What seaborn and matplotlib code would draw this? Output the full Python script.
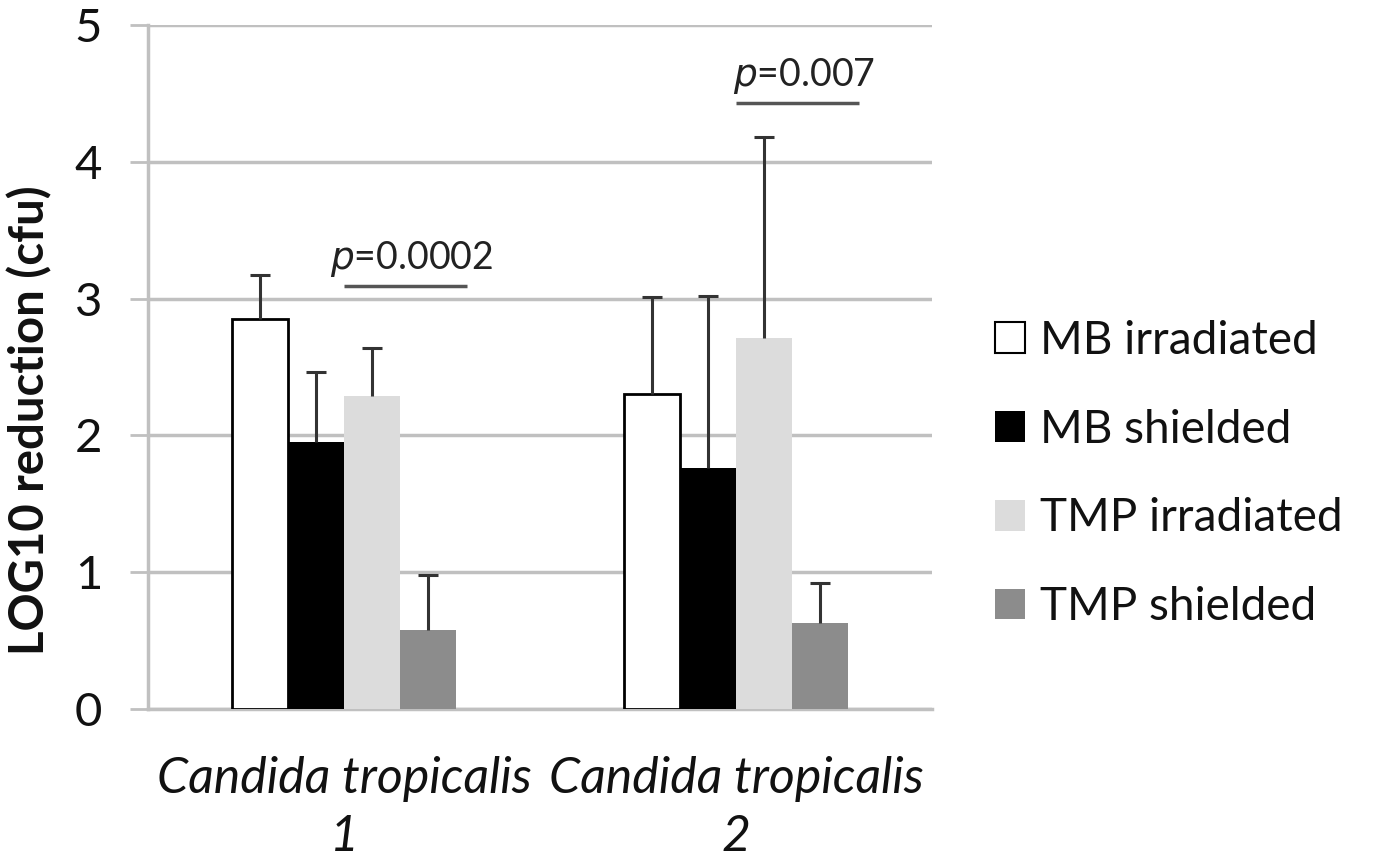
import numpy as np
import pandas as pd
import matplotlib
matplotlib.use("Agg")
import matplotlib.pyplot as plt
import seaborn as sns
from matplotlib.patches import Patch

# ---- data ----
categories = ["Candida tropicalis\n1", "Candida tropicalis\n2"]
treatments = ["MB irradiated", "MB shielded", "TMP irradiated", "TMP shielded"]
means_ct1 = [2.85, 1.95, 2.29, 0.58]
means_ct2 = [2.30, 1.76, 2.71, 0.63]
sd_ct1 = [0.32, 0.51, 0.35, 0.40]
sd_ct2 = [0.71, 1.26, 1.47, 0.29]
yticks = [0, 1, 2, 3, 4, 5]
pvals = ["0.0002", "0.007"]
p_heights = [3.09, 4.43]

colors = ["#ffffff", "#000000", "#dcdcdc", "#8c8c8c"]
edges = ["#000000", "#000000", "#dcdcdc", "#8c8c8c"]

rows = []
for cat, ms, ss in [(categories[0], means_ct1, sd_ct1), (categories[1], means_ct2, sd_ct2)]:
    for t, m, s in zip(treatments, ms, ss):
        rows.append({"category": cat, "treatment": t, "value": m, "sd": s})
df = pd.DataFrame(rows)

sns.set_theme(style="white")
plt.rcParams["font.family"] = ["Lato", "DejaVu Sans"]

fig = plt.figure(figsize=(13.74, 8.63), dpi=100)
ax = fig.add_axes([148 / 1374, 1 - 709 / 863, (932 - 148) / 1374, (709 - 25) / 863])

sns.barplot(data=df, x="category", y="value", hue="treatment",
            order=categories, hue_order=treatments,
            palette=colors, errorbar=None, width=0.573, saturation=1,
            legend=False, ax=ax, zorder=3)

bar_conts = list(ax.containers)

# style bars and add one-sided (upper) error bars
for ci, cont in enumerate(bar_conts):
    t = treatments[ci]
    for bar, cat in zip(cont.patches, categories):
        bar.set_edgecolor(edges[ci])
        bar.set_linewidth(2.0 if ci == 0 else 0.0)
        val = df[(df.category == cat) & (df.treatment == t)]
        cx = bar.get_x() + bar.get_width() / 2
        h = bar.get_height()
        sd = float(val["sd"].iloc[0])
        eb = ax.errorbar(cx, h, yerr=[[0], [sd]], fmt="none", ecolor="#333333",
                         elinewidth=2.2, capsize=7, capthick=2.2, zorder=4)
        caps = eb[1]
        if len(caps) >= 1:
            caps[0].set_visible(False)

ax.set_ylim(0, 5)
ax.set_xlim(-0.5, 1.5)
ax.set_yticks(yticks)
ax.set_yticklabels([str(v) for v in yticks], fontsize=34, color="#111111")
ax.set_xticks([0, 1])
ax.set_xticklabels(categories, fontsize=36, style="italic", color="#111111",
                   linespacing=1.33)
ax.set_xlabel("")
ax.set_ylabel("LOG10 reduction (cfu)", fontsize=34, fontweight="bold",
              color="#111111")
ax.yaxis.set_label_coords(-0.122, 0.4225)

ax.yaxis.grid(True, color="#c0c0c0", linewidth=2.5, zorder=0)
ax.set_axisbelow(True)
for s in ["top", "right"]:
    ax.spines[s].set_visible(False)
ax.spines["left"].set_color("#c0c0c0")
ax.spines["left"].set_linewidth(2.5)
ax.spines["bottom"].set_color("#c0c0c0")
ax.spines["bottom"].set_linewidth(2.5)
ax.tick_params(axis="y", which="both", left=True, length=13, width=2.0,
               color="#c0c0c0", pad=20)
ax.tick_params(axis="x", which="both", bottom=False, pad=28)

# significance annotations: TMP irradiated vs TMP shielded
px = 1.0 / 391.0
for gi in range(2):
    b1 = bar_conts[2].patches[gi]
    b2 = bar_conts[3].patches[gi]
    x1 = b1.get_x()
    x2 = b2.get_x() + b2.get_width() + 11 * px
    y = p_heights[gi]
    ax.plot([x1, x2], [y, y], color="#555555", linewidth=2.5, zorder=5,
            solid_capstyle="butt", clip_on=False)
    ax.text((x1 + x2) / 2 + 6 * px, y + 0.05, r"$\it{p}$" + "=" + pvals[gi],
            ha="center", va="bottom", fontsize=27, color="#222222")

# legend
handles = [Patch(facecolor=c, edgecolor=e, linewidth=1.5 if i == 0 else 0)
           for i, (c, e) in enumerate(zip(colors, edges))]
fig.legend(handles, treatments, loc="center left",
           bbox_to_anchor=(954 / 1374, 1 - 474 / 863), frameon=False,
           fontsize=33, handlelength=0.65, handleheight=0.65, handletextpad=0.33,
           labelspacing=1.02, labelcolor="#111111")

fig.savefig("out.png", dpi=100)
